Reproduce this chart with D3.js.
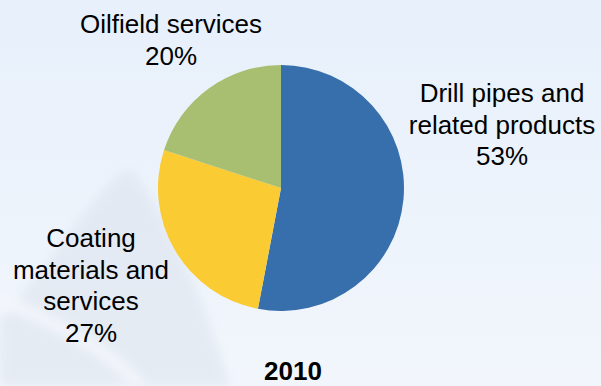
<!DOCTYPE html>
<html>
<head>
<meta charset="utf-8">
<script src="https://cdn.jsdelivr.net/npm/d3@7"></script>
<style>
  html, body { margin: 0; padding: 0; background: #ecf2fb; }
  svg { display: block; }
  text { font-family: "Liberation Sans", Arial, sans-serif; fill: #000; }
</style>
</head>
<body>
<svg id="chart" width="601" height="386"></svg>
<script>
// Revenue breakdown by segment, 2010
const categories = ["Drill pipes and related products", "Coating materials and services", "Oilfield services"];
const shares = [53, 27, 20];
const labelLines = [
  ["Drill pipes and", "related products"],
  ["Coating", "materials and", "services"],
  ["Oilfield services"]
];
const colors = ["#376fac", "#facb32", "#a8be70"];
const year = "2010";

const width = 601, height = 386;
const svg = d3.select("#chart");

// Soft blue backdrop
const defs = svg.append("defs");
const bg = defs.append("linearGradient").attr("id", "bg").attr("x1", 0).attr("y1", 0).attr("x2", 0).attr("y2", 1);
bg.append("stop").attr("offset", "0%").attr("stop-color", "#e7f0fb");
bg.append("stop").attr("offset", "100%").attr("stop-color", "#f2f6fc");
defs.append("filter").attr("id", "soft").append("feGaussianBlur").attr("stdDeviation", 5);

svg.append("rect").attr("width", width).attr("height", height).attr("fill", "url(#bg)");

// Faint swoosh in the lower left
svg.append("path")
  .attr("d", "M0,320 C40,280 95,185 130,168 C165,210 205,300 230,386 L0,386 Z")
  .attr("fill", "#d8dfea")
  .attr("opacity", 0.45)
  .attr("filter", "url(#soft)");
svg.append("path")
  .attr("d", "M0,300 C50,320 110,350 140,386")
  .attr("fill", "none")
  .attr("stroke", "#f4f7fc")
  .attr("stroke-width", 14)
  .attr("opacity", 0.8)
  .attr("filter", "url(#soft)");

// Pie
const cx = 281, cy = 188, r = 123;
const pie = d3.pie().sort(null).value(d => d)(shares);
const arc = d3.arc().innerRadius(0).outerRadius(r);

const g = svg.append("g").attr("transform", `translate(${cx},${cy})`);
g.selectAll("path")
  .data(pie)
  .join("path")
  .attr("d", arc)
  .attr("fill", (d, i) => colors[i]);

// Category labels with their shares
const labelPos = [
  { x: 502, y: 102 },
  { x: 91, y: 247 },
  { x: 171, y: 33 }
];
const lineH = 31.5;

categories.forEach((c, i) => {
  const lines = labelLines[i].concat([shares[i] + "%"]);
  const t = svg.append("text")
    .attr("text-anchor", "middle")
    .attr("font-size", 26);
  lines.forEach((ln, j) => {
    t.append("tspan")
      .attr("x", labelPos[i].x)
      .attr("y", labelPos[i].y + j * lineH)
      .text(ln);
  });
});

svg.append("text")
  .attr("x", 293)
  .attr("y", 380)
  .attr("text-anchor", "middle")
  .attr("font-size", 26)
  .attr("font-weight", "bold")
  .text(year);
</script>
</body>
</html>
